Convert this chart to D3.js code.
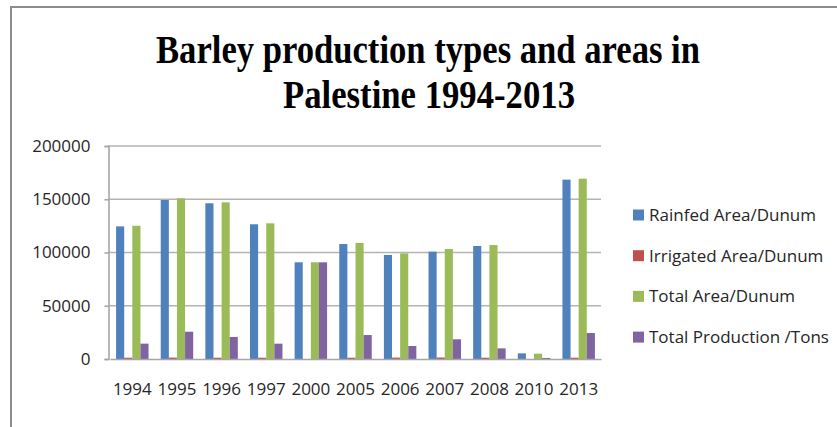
<!DOCTYPE html>
<html>
<head>
<meta charset="utf-8">
<script src="https://cdn.jsdelivr.net/npm/d3@7/dist/d3.min.js"></script>
<style>
  html, body { margin: 0; padding: 0; background: #fff; }
  svg { display: block; }
</style>
</head>
<body>
<svg id="chart" width="837" height="427"></svg>
<script>
// years on the x axis
var years = ["1994", "1995", "1996", "1997", "2000", "2005", "2006", "2007", "2008", "2010", "2013"];

// series values
var rainfedArea = [124500, 149300, 146200, 126500, 90800, 108000, 97700, 100800, 106100, 5300, 168400];
var irrigatedArea = [1200, 1300, 1200, 1200, 0, 1200, 1300, 1400, 1200, 0, 1200];
var totalArea = [125100, 150900, 147100, 127400, 90800, 109000, 99200, 103300, 107000, 5000, 169300];
var totalProduction = [14400, 25600, 20700, 14400, 90800, 22500, 12200, 18500, 10000, 1000, 24400];

var seriesNames = ["Rainfed Area/Dunum", "Irrigated Area/Dunum", "Total Area/Dunum", "Total Production /Tons"];
var seriesValues = [rainfedArea, irrigatedArea, totalArea, totalProduction];
var seriesColors = ["#4f81bd", "#c0504d", "#9bbb59", "#8064a2"];

var yTicks = [0, 50000, 100000, 150000, 200000];

var PLOT = { left: 110, right: 601, top: 146, bottom: 359 };

var svg = d3.select("#chart");

// outer frame (only top and left edges are visible)
svg.append("line")
  .attr("x1", 11).attr("y1", 7).attr("x2", 837).attr("y2", 7)
  .attr("stroke", "#8c8c8c").attr("stroke-width", 2);
svg.append("line")
  .attr("x1", 11).attr("y1", 6).attr("x2", 11).attr("y2", 427)
  .attr("stroke", "#8c8c8c").attr("stroke-width", 2);

// title, narrow bold serif
var title = svg.append("g")
  .attr("font-family", "'Liberation Serif', 'Times New Roman', serif")
  .attr("font-weight", "bold")
  .attr("font-size", "39px")
  .attr("fill", "#000")
  .attr("text-anchor", "middle");

title.append("text")
  .attr("x", 428).attr("y", 63)
  .attr("textLength", 544)
  .attr("lengthAdjust", "spacingAndGlyphs")
  .text("Barley production types and areas in");

title.append("text")
  .attr("x", 429).attr("y", 108)
  .attr("textLength", 292)
  .attr("lengthAdjust", "spacingAndGlyphs")
  .text("Palestine 1994-2013");

var x0 = d3.scaleBand()
  .domain(years)
  .range([PLOT.left, PLOT.right])
  .paddingInner(0)
  .paddingOuter(0);

// bars take 4 of 5.5 parts of each slot (excel gap width 150%)
var gap = x0.bandwidth() * 1.5 / 5.5;
var x1 = d3.scaleBand()
  .domain(d3.range(seriesNames.length))
  .range([gap / 2, x0.bandwidth() - gap / 2]);

var y = d3.scaleLinear()
  .domain([0, 200000])
  .range([PLOT.bottom, PLOT.top]);

// gridlines
svg.append("g")
  .selectAll("line")
  .data(yTicks.slice(1))
  .enter()
  .append("line")
  .attr("x1", PLOT.left - 2)
  .attr("x2", PLOT.right)
  .attr("y1", d => y(d))
  .attr("y2", d => y(d))
  .attr("stroke", "#b4b4b4")
  .attr("stroke-width", 1.6);

// y axis
var yAxis = svg.append("g")
  .attr("transform", "translate(" + (PLOT.left - 1.5) + ",0)")
  .call(d3.axisLeft(y).tickValues(yTicks).tickSize(4).tickPadding(14).tickFormat(d3.format("d")));

yAxis.select(".domain")
  .attr("stroke", "#a6a6a6")
  .attr("stroke-width", 1.6);
yAxis.selectAll(".tick line")
  .attr("stroke", "#a6a6a6")
  .attr("stroke-width", 1.6);
yAxis.selectAll(".tick text")
  .attr("font-family", "'Open Sans', sans-serif")
  .attr("font-size", "17px")
  .attr("fill", "#262626");

// bars, with a faint light edge like the original
var groups = svg.append("g")
  .selectAll("g")
  .data(years)
  .enter()
  .append("g")
  .attr("transform", d => "translate(" + x0(d) + ",0)");

groups.selectAll("rect")
  .data((d, i) => seriesValues.map((vals, s) => ({ s: s, v: vals[i] })))
  .enter()
  .append("rect")
  .attr("x", d => x1(d.s))
  .attr("width", x1.bandwidth())
  .attr("y", d => y(d.v))
  .attr("height", d => y(0) - y(d.v))
  .attr("fill", d => seriesColors[d.s]);

// x axis
var xAxis = svg.append("g")
  .attr("transform", "translate(0," + PLOT.bottom + ")")
  .call(d3.axisBottom(x0).tickSize(0).tickPadding(24));

xAxis.select(".domain")
  .attr("stroke", "#a6a6a6")
  .attr("stroke-width", 1.6);
xAxis.selectAll(".tick text")
  .attr("font-family", "'Open Sans', sans-serif")
  .attr("font-size", "17px")
  .attr("fill", "#262626");

// legend
var legend = svg.append("g")
  .selectAll("g")
  .data(seriesNames)
  .enter()
  .append("g")
  .attr("transform", (d, i) => "translate(633," + (215 + i * 40.7) + ")");

legend.append("rect")
  .attr("x", 0)
  .attr("y", -5.5)
  .attr("width", 11)
  .attr("height", 11)
  .attr("fill", (d, i) => seriesColors[i]);

legend.append("text")
  .attr("x", 16)
  .attr("y", 0)
  .attr("dy", "0.35em")
  .attr("font-family", "'Open Sans', sans-serif")
  .attr("font-size", "17px")
  .attr("fill", "#262626")
  .text(d => d);
</script>
</body>
</html>
